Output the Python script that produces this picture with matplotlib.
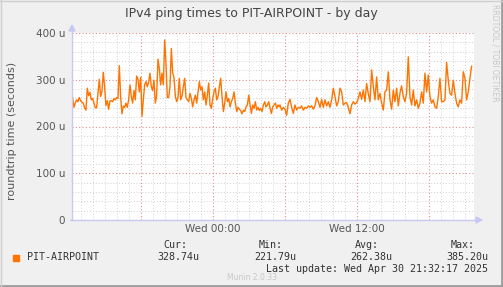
import matplotlib

matplotlib.use("Agg")
import matplotlib.dates as mdates
import matplotlib.pyplot as plt
import pandas as pd
from matplotlib.lines import Line2D
from matplotlib.ticker import FixedLocator, FuncFormatter, MultipleLocator

W, H = 503, 287

# ping rtt in microseconds (two sampling runs)
ping_a = [
    262, 241, 250, 257, 253, 262, 255, 252, 250, 240, 235, 282, 266, 273, 257, 260,
    250, 240, 240, 270, 301, 264, 275, 316, 285, 245, 255, 237, 255, 255, 253, 260,
    257, 262, 260, 330, 264, 227, 244, 241, 250, 241, 257, 289, 264, 250, 277, 257,
    308, 301, 274, 305, 222, 257, 289, 296, 285, 295, 314, 285, 277, 299, 250, 266,
    344, 324, 289, 314, 289, 385, 335, 262, 262, 285, 367, 314, 305, 265, 253, 262,
    303, 257, 265, 285, 303, 262, 257, 253, 271, 260, 242, 257, 267, 250, 274, 296,
    278, 285, 257, 274, 246, 267, 293, 246, 239, 260, 274, 282, 257, 264, 285, 303,
    264, 232, 250, 274, 253, 260, 242, 253, 260, 274, 250, 232, 241, 237, 234, 227,
    235, 232, 242, 246, 267, 246, 228, 246, 239, 253, 235, 241, 234, 239, 232, 246,
    253, 242, 246, 253, 239, 228, 242, 246, 250, 239, 246, 242,
]
ping_b = [
    246, 235, 241, 237, 224, 250, 258, 241, 228, 246, 235, 241, 239, 244, 235, 241,
    239, 244, 241, 244, 237, 244, 262, 253, 241, 258, 241, 257, 244, 253, 241, 257,
    282, 264, 244, 253, 282, 274, 246, 250, 251, 241, 227, 246, 253, 248, 251, 260,
    274, 258, 278, 253, 292, 270, 253, 321, 285, 257, 306, 257, 271, 250, 235, 274,
    278, 317, 257, 237, 278, 253, 282, 244, 271, 287, 264, 253, 271, 349, 264, 246,
    278, 244, 257, 239, 250, 274, 250, 314, 274, 310, 264, 250, 257, 242, 239, 264,
    303, 253, 253, 257, 337, 299, 271, 267, 299, 271, 250, 242, 257, 250, 317, 303,
    257, 274, 303, 329,
]
span_a = ("2025-04-29 12:18", "2025-04-30 05:32")
span_b = ("2025-04-30 05:35", "2025-04-30 21:33")
view = ("2025-04-29 12:15", "2025-04-30 21:45")

series_name = "PIT-AIRPOINT"
stat_labels = ["Cur:", "Min:", "Avg:", "Max:"]
stat_values = ["328.74u", "221.79u", "262.38u", "385.20u"]
y_ticks = [0, 100, 200, 300, 400]
y_tick_labels = ["0", "100 u", "200 u", "300 u", "400 u"]

ORANGE = "#FF7300"
BG = "#F0F0F0"
AXIS = "#C8C8F0"


def fx(x):
    return x / W


def fy(y):
    return 1 - y / H


fig = plt.figure(figsize=(W / 100, H / 100), dpi=100, facecolor=BG)
ax = fig.add_axes([fx(72), fy(220), 402 / W, 187 / H])
ax.set_facecolor("white")

t_a = pd.date_range(span_a[0], span_a[1], periods=len(ping_a))
t_b = pd.date_range(span_b[0], span_b[1], periods=len(ping_b))
t = t_a.append(t_b)
vals = ping_a + ping_b
ax.plot(t, vals, color=ORANGE, lw=1.0, zorder=3)

ax.set_xlim(pd.Timestamp(view[0]), pd.Timestamp(view[1]))
ax.set_ylim(0, 400)

ax.yaxis.set_major_locator(FixedLocator(y_ticks))
ax.yaxis.set_major_formatter(FuncFormatter(lambda v, p: y_tick_labels[y_ticks.index(int(round(v)))]))
ax.yaxis.set_minor_locator(MultipleLocator(20))

ax.xaxis.set_major_locator(mdates.HourLocator(byhour=[0, 6, 12, 18]))
ax.xaxis.set_minor_locator(mdates.HourLocator())


def xfmt(v, pos):
    d = mdates.num2date(v)
    return d.strftime("%a %H:%M") if d.hour in (0, 12) else ""


ax.xaxis.set_major_formatter(FuncFormatter(xfmt))

dots = (0, (1, 2))
ax.grid(which="minor", color="#D0D0D0", lw=0.7, linestyle=dots, zorder=1)
ax.grid(which="major", color="#E09090", lw=0.8, linestyle=dots, zorder=2)
ax.tick_params(which="both", length=0, colors="#555555", labelsize=7.5)
ax.tick_params(axis="y", pad=5)
ax.tick_params(axis="x", pad=3)
for s in ax.spines.values():
    s.set_visible(False)

# axes with arrow heads, drawn in figure pixels
fig.add_artist(Line2D([fx(72), fx(72)], [fy(220), fy(28)], color=AXIS, lw=1))
fig.add_artist(Line2D([fx(70), fx(478)], [fy(220), fy(220)], color=AXIS, lw=1))
fig.add_artist(plt.Polygon([[fx(69), fy(31)], [fx(75), fy(31)], [fx(72), fy(25)]], color=AXIS))
fig.add_artist(plt.Polygon([[fx(476), fy(217)], [fx(476), fy(223)], [fx(482), fy(220)]], color=AXIS))

fig.text(0.5, fy(14), "IPv4 ping times to PIT-AIRPOINT - by day", ha="center", va="center",
         fontsize=9, color="#444444")
fig.text(fx(12), fy(131), "roundtrip time (seconds)", rotation=90, ha="center", va="center",
         fontsize=8, color="#555555")
fig.text(fx(495), fy(4), "RRDTOOL / TOBI OETIKER", rotation=270, ha="center", va="top",
         fontsize=5.5, color="#C8C8C8")

mono = dict(family="DejaVu Sans Mono", fontsize=7.2, color="#333333", va="center")
fig.patches.append(plt.Rectangle((fx(13), fy(261)), 6 / W, 6 / H, color=ORANGE,
                                 transform=fig.transFigure, figure=fig))
fig.text(fx(27), fy(257), series_name, ha="left", **mono)
for lab, x in zip(stat_labels, [187, 283, 379, 475]):
    fig.text(fx(x), fy(245), lab, ha="right", **mono)
for val, x in zip(stat_values, [199, 296, 392, 488]):
    fig.text(fx(x), fy(257), val, ha="right", **mono)
fig.text(fx(488), fy(269), "Last update: Wed Apr 30 21:32:17 2025", ha="right", **mono)
fig.text(fx(252), fy(277), "Munin 2.0.33", ha="center", va="center", fontsize=5.5, color="#C8C8C8")

# 3d frame around the picture
fig.add_artist(Line2D([0, 1], [fy(286), fy(286)], color="#9E9E9E", lw=2))
fig.add_artist(Line2D([fx(502), fx(502)], [0, 1], color="#9E9E9E", lw=2))
fig.add_artist(Line2D([0, 1], [fy(0.5), fy(0.5)], color="#CFCFCF", lw=1))
fig.add_artist(Line2D([fx(0.5), fx(0.5)], [0, 1], color="#CFCFCF", lw=1))

fig.savefig("out.png", dpi=100, facecolor=BG)
